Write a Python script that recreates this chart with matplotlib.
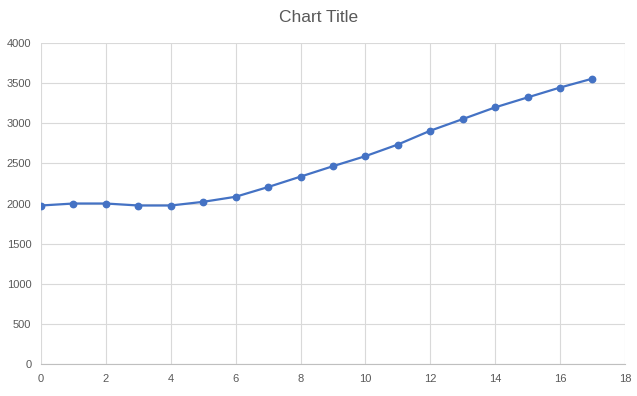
import matplotlib.pyplot as plt

x_vals = list(range(18))
y_vals = [1975, 2000, 2000, 1975, 1975, 2021, 2084, 2205, 2335, 2465,
          2590, 2735, 2907, 3052, 3198, 3322, 3445, 3556]

plt.rcParams['font.family'] = ['Liberation Sans', 'DejaVu Sans']

fig = plt.figure(figsize=(6.37, 3.96), dpi=100)
ax = fig.add_axes([0.0644, 0.0808, 0.9166, 0.8106])

ax.plot(x_vals, y_vals, color='#4472C4', linewidth=1.6, marker='o',
        markersize=4.6, zorder=3)

ax.set_xlim(0, 18)
ax.set_ylim(0, 4000)
ax.set_xticks(range(0, 19, 2))
ax.set_yticks(range(0, 4001, 500))
ax.grid(True, color='#d9d9d9', linewidth=0.8)
ax.set_axisbelow(True)

for s in ['top', 'right', 'left']:
    ax.spines[s].set_visible(False)
ax.spines['bottom'].set_color('#bfbfbf')
ax.tick_params(axis='both', length=0, labelsize=8, colors='#595959', pad=7)

fig.suptitle('Chart Title', y=0.975, fontsize=12.5, color='#595959')

plt.savefig('out.png', dpi=100)
